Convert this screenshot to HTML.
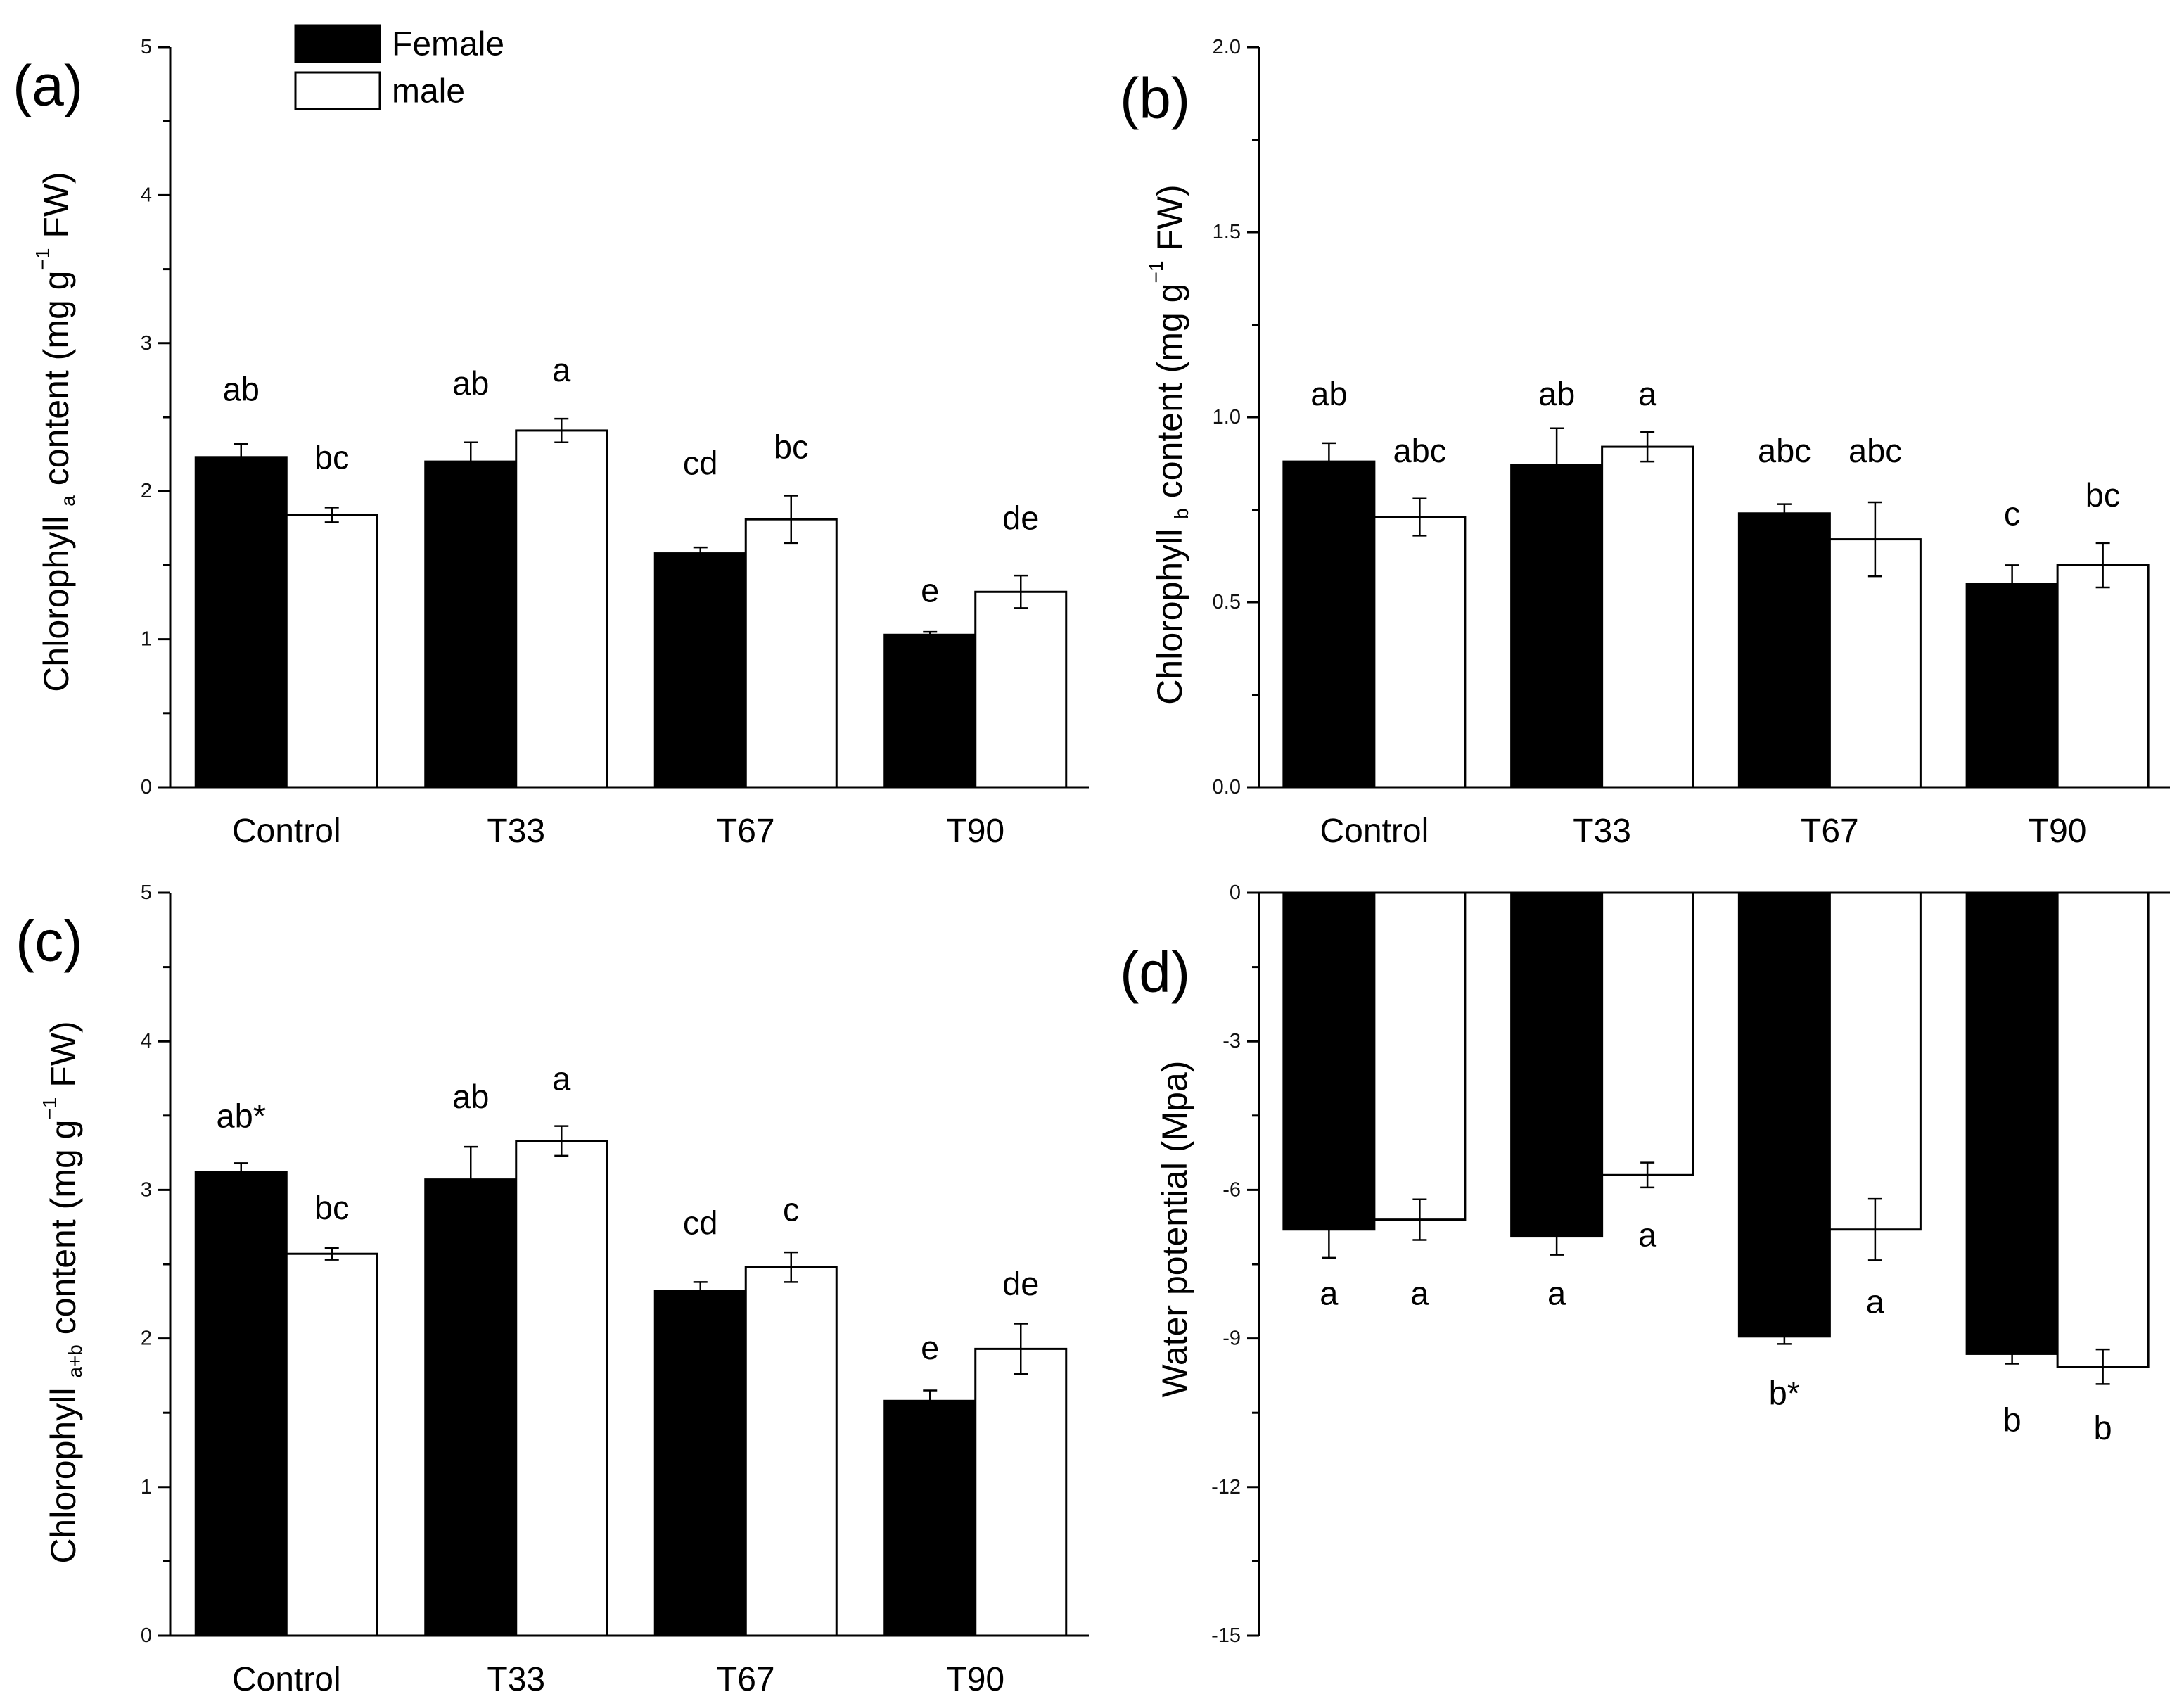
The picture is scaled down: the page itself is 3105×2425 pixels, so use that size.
<!DOCTYPE html>
<html><head><meta charset="utf-8">
<style>
html,body{margin:0;padding:0;background:#fff;}
svg{display:block;font-family:"Liberation Sans",Arial,sans-serif;}
</style></head>
<body>
<svg id="fig" width="3105" height="2425" viewBox="0 0 3105 2425" xmlns="http://www.w3.org/2000/svg">
<g id="root"></g>
</svg>
<script>
// ---- data ----
const categories = ["Control", "T33", "T67", "T90"];
const aFemale = [2.23, 2.20, 1.58, 1.03];
const aFemaleErr = [0.09, 0.13, 0.04, 0.02];
const aMale = [1.84, 2.41, 1.81, 1.32];
const aMaleErr = [0.05, 0.08, 0.16, 0.11];
const aLetters = ["ab", "bc", "ab", "a", "cd", "bc", "e", "de"];
const aLetterY = [2.69, 2.23, 2.73, 2.82, 2.19, 2.30, 1.33, 1.82];

const bFemale = [0.88, 0.87, 0.74, 0.55];
const bFemaleErr = [0.05, 0.10, 0.025, 0.05];
const bMale = [0.73, 0.92, 0.67, 0.60];
const bMaleErr = [0.05, 0.04, 0.10, 0.06];
const bLetters = ["ab", "abc", "ab", "a", "abc", "abc", "c", "bc"];
const bLetterY = [1.064, 0.91, 1.064, 1.064, 0.91, 0.91, 0.74, 0.79];

const cFemale = [3.12, 3.07, 2.32, 1.58];
const cFemaleErr = [0.06, 0.22, 0.06, 0.07];
const cMale = [2.57, 3.33, 2.48, 1.93];
const cMaleErr = [0.04, 0.10, 0.10, 0.17];
const cLetters = ["ab*", "bc", "ab", "a", "cd", "c", "e", "de"];
const cLetterY = [3.50, 2.88, 3.63, 3.75, 2.78, 2.87, 1.94, 2.37];

const dFemale = [-6.8, -6.94, -8.96, -9.31];
const dFemaleErr = [0.57, 0.37, 0.15, 0.2];
const dMale = [-6.6, -5.7, -6.8, -9.57];
const dMaleErr = [0.41, 0.25, 0.62, 0.35];
const dLetters = ["a", "a", "a", "a", "b*", "a", "b", "b"];
const dLetterY = [-8.08, -8.08, -8.08, -6.9, -10.1, -8.25, -10.64, -10.8];

const abTicks = [0, 1, 2, 3, 4, 5];
const bTicks = ["0.0", "0.5", "1.0", "1.5", "2.0"];
const dTicks = [0, -3, -6, -9, -12, -15];

// ---- drawing ----
const NS = "http://www.w3.org/2000/svg";
const root = document.getElementById("root");
function mk(tag, attrs, parent) {
  const e = document.createElementNS(NS, tag);
  for (const k in attrs) e.setAttribute(k, attrs[k]);
  (parent || root).appendChild(e);
  return e;
}

function panel(cfg) {
  const g = mk("g", {});
  
  
  const L = cfg.left, R = cfg.right, T = cfg.top, B = cfg.bottom;
  const y = v => T + (cfg.ymax - v) / (cfg.ymax - cfg.ymin) * (B - T);
  const cw = (R - L) / categories.length;
  const cx = i => L + cw * (i + 0.5) + 2;
  const bw = 129;
  const zeroY = y(0);

  categories.forEach((c, i) => {
    const series = [[cfg.female, cfg.femaleErr, "#000", -1], [cfg.male, cfg.maleErr, "#fff", 0]];
    series.forEach(([vals, errs, fill, off], si) => {
      const v = vals[i];
      const x0 = cx(i) + off * bw;
      const yv = y(v);
      const r = mk("rect", {x: x0, y: Math.min(yv, zeroY), width: bw, height: Math.abs(zeroY - yv), fill: fill, stroke: "#000", "stroke-width": 3}, g);
      
      
      const ex = x0 + bw / 2;
      const eb = mk("path", {d: `M${ex},${y(v + errs[i])}V${y(v - errs[i])}M${ex - 10},${y(v + errs[i])}h20M${ex - 10},${y(v - errs[i])}h20`, stroke: "#000", "stroke-width": 2.5, fill: "none"}, g);
      
      
      const lt = mk("text", {x: ex, y: y(cfg.letterY[i * 2 + si]), "font-size": 47, "text-anchor": "middle", "dominant-baseline": "central"}, g);
      lt.textContent = cfg.letters[i * 2 + si];
      
      
    });
    if (cfg.catLabels) {
      const t = mk("text", {x: cx(i), y: B + 78, "font-size": 48, "text-anchor": "middle"}, g);
      t.textContent = c;
      
      
    }
  });

  const ax = mk("path", {d: `M${L},${T}V${B}`, stroke: "#000", "stroke-width": 3, fill: "none"}, g);
  
  
  const xa = mk("path", {d: `M${L},${zeroY}H${R}`, stroke: "#000", "stroke-width": 3, fill: "none"}, g);
  
  

  cfg.ticks.forEach((tv, k) => {
    const v = parseFloat(tv);
    const ty = y(v);
    mk("path", {d: `M${L - 17},${ty}H${L}`, stroke: "#000", "stroke-width": 3}, g);
    const t = mk("text", {x: L - 26, y: ty, "font-size": 29, "text-anchor": "end", "dominant-baseline": "central", fill: "#111"}, g);
    t.textContent = tv;
    
    
    if (k < cfg.ticks.length - 1) {
      const mv = (v + parseFloat(cfg.ticks[k + 1])) / 2;
      mk("path", {d: `M${L - 10},${y(mv)}H${L}`, stroke: "#000", "stroke-width": 3}, g);
    }
  });

  const pl = mk("text", {x: cfg.plx, y: cfg.ply, "font-size": 82, "dominant-baseline": "central"}, g);
  pl.textContent = "(" + cfg.id + ")";
  
  

  const yt = mk("text", {transform: `translate(${cfg.ytx},${cfg.yty}) rotate(-90)`, "font-size": 50, "text-anchor": "middle", "dominant-baseline": "central"}, g);
  
  
  if (cfg.sub) {
    const parts = [["Chlorophyll ", 50, 0], [cfg.sub, 28, 16], [" content (mg g", 50, -16], ["−1", 28, -20], [" FW)", 50, 20]];
    parts.forEach(([s, fs, dy]) => {
      const ts = mk("tspan", {"font-size": fs, dy: dy}, yt);
      ts.textContent = s;
    });
  } else {
    yt.textContent = cfg.title;
  }
}

panel({id: "a", left: 242, right: 1548, top: 67, bottom: 1119, ymin: 0, ymax: 5,
  female: aFemale, femaleErr: aFemaleErr, male: aMale, maleErr: aMaleErr,
  letters: aLetters, letterY: aLetterY, ticks: abTicks.map(String), catLabels: true,
  plx: 18, ply: 122, ytx: 80, yty: 614, sub: "a"});
panel({id: "b", left: 1790, right: 3085, top: 67, bottom: 1119, ymin: 0, ymax: 2,
  female: bFemale, femaleErr: bFemaleErr, male: bMale, maleErr: bMaleErr,
  letters: bLetters, letterY: bLetterY, ticks: bTicks, catLabels: true,
  plx: 1592, ply: 140, ytx: 1663, yty: 632, sub: "b"});
panel({id: "c", left: 242, right: 1548, top: 1269, bottom: 2325, ymin: 0, ymax: 5,
  female: cFemale, femaleErr: cFemaleErr, male: cMale, maleErr: cMaleErr,
  letters: cLetters, letterY: cLetterY, ticks: abTicks.map(String), catLabels: true,
  plx: 22, ply: 1338, ytx: 90, yty: 1837, sub: "a+b"});
panel({id: "d", left: 1790, right: 3085, top: 1269, bottom: 2325, ymin: -15, ymax: 0,
  female: dFemale, femaleErr: dFemaleErr, male: dMale, maleErr: dMaleErr,
  letters: dLetters, letterY: dLetterY, ticks: dTicks.map(String), catLabels: false,
  plx: 1592, ply: 1382, ytx: 1670, yty: 1747, title: "Water potential (Mpa)"});

const lg = mk("g", {});


const lf = mk("rect", {x: 420, y: 36, width: 120, height: 52, fill: "#000", stroke: "#000", "stroke-width": 3}, lg);


const lm = mk("rect", {x: 420, y: 103, width: 120, height: 52, fill: "#fff", stroke: "#000", "stroke-width": 3}, lg);


const t1 = mk("text", {x: 557, y: 63, "font-size": 48, "dominant-baseline": "central"}, lg);
t1.textContent = "Female";


const t2 = mk("text", {x: 557, y: 130, "font-size": 48, "dominant-baseline": "central"}, lg);
t2.textContent = "male";


</script>
</body></html>
